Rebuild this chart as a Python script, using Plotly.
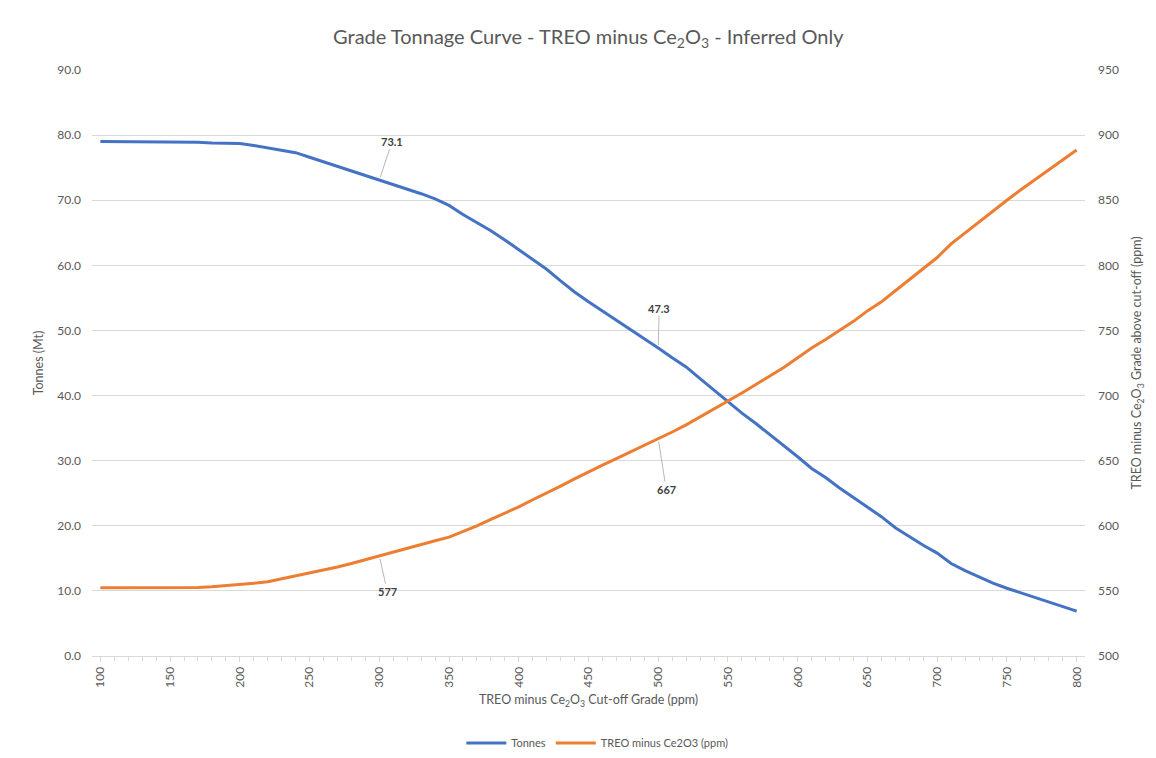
import plotly.graph_objects as go

cutoff = list(range(100, 801, 10))

tonnes = [79.0, 79.0, 79.0, 79.0, 79.0, 79.0, 79.0, 78.9, 78.8, 78.8,
          78.7, 78.4, 78.0, 77.7, 77.3, 76.6, 75.9, 75.3, 74.6, 73.9,
          73.1, 72.4, 71.7, 71.0, 70.2, 69.2, 67.8, 66.6, 65.3, 63.9,
          62.4, 61.0, 59.4, 57.6, 55.9, 54.4, 53.0, 51.6, 50.2, 48.8,
          47.3, 45.8, 44.4, 42.6, 40.8, 39.0, 37.3, 35.7, 34.0, 32.4,
          30.6, 28.8, 27.4, 25.8, 24.3, 22.8, 21.4, 19.7, 18.3, 17.0,
          15.8, 14.2, 13.1, 12.1, 11.2, 10.4, 9.7, 9.0, 8.3, 7.6, 6.9]

grade = [552.5, 552.5, 552.5, 552.5, 552.5, 552.5, 552.5, 552.6, 553.2, 554.0,
         554.8, 555.8, 557.0, 559.2, 561.3, 563.5, 566.0, 568.3, 571.0, 574.0,
         577.0, 580.0, 583.0, 585.8, 588.5, 591.3, 595.5, 600.0, 605.0, 609.8,
         614.5, 620.0, 625.0, 630.5, 636.0, 641.5, 646.5, 651.5, 656.5, 661.8,
         667.0, 672.0, 677.5, 683.5, 689.5, 695.5, 702.0, 708.5, 715.0, 721.5,
         729.0, 736.5, 743.0, 750.0, 757.0, 765.0, 772.0, 780.5, 789.0, 797.5,
         806.0, 816.5, 825.0, 833.5, 842.0, 850.0, 858.0, 865.5, 873.5, 881.0, 888.5]

x_ticks = list(range(100, 801, 50))
left_ticks = [0, 10, 20, 30, 40, 50, 60, 70, 80, 90]
right_ticks = [500, 550, 600, 650, 700, 750, 800, 850, 900, 950]

# labelled points (cut-off values)
tonne_labels = [300, 500]
grade_labels = [300, 500]

FONT = "Lato"
GRAY = "#595959"
BLUE = "#4472C4"
ORANGE = "#ED7D31"

fig = go.Figure()
fig.add_trace(go.Scatter(x=cutoff, y=tonnes, mode="lines", name="Tonnes",
                         line=dict(color=BLUE, width=3), yaxis="y"))
fig.add_trace(go.Scatter(x=cutoff, y=grade, mode="lines", name="TREO minus Ce2O3 (ppm)",
                         line=dict(color=ORANGE, width=3), yaxis="y2"))

annotations = []
offsets_t = {300: (13, -39), 500: (1, -40)}
offsets_g = {300: (8, 36), 500: (8, 51)}
for c in tonne_labels:
    v = tonnes[cutoff.index(c)]
    ax, ay = offsets_t[c]
    annotations.append(dict(x=c, y=v, xref="x", yref="y", text=f"<b>{v:.1f}</b>",
                            showarrow=True, arrowhead=0, arrowwidth=0.8, arrowcolor="#A6A6A6",
                            ax=ax, ay=ay, standoff=3,
                            font=dict(family=FONT, size=11, color="#404040")))
for c in grade_labels:
    v = grade[cutoff.index(c)]
    ax, ay = offsets_g[c]
    annotations.append(dict(x=c, y=v, xref="x", yref="y2", text=f"<b>{v:.0f}</b>",
                            showarrow=True, arrowhead=0, arrowwidth=0.8, arrowcolor="#A6A6A6",
                            ax=ax, ay=ay, standoff=3,
                            font=dict(family=FONT, size=11, color="#404040")))

fig.update_layout(
    width=1156, height=758,
    paper_bgcolor="white", plot_bgcolor="white",
    margin=dict(l=92, r=71, t=70, b=102),
    font=dict(family=FONT, color=GRAY, size=12),
    title=dict(text="Grade Tonnage Curve - TREO minus Ce<sub>2</sub>O<sub>3</sub> - Inferred Only",
               x=0.5089, xanchor="center", y=0.951, yanchor="middle",
               font=dict(family=FONT, size=20, color=GRAY)),
    xaxis=dict(range=[94, 806], tickvals=x_ticks, ticktext=[str(v) for v in x_ticks],
               tickangle=-90, showgrid=False, zeroline=False, automargin=False,
               showline=True, linecolor="#D9D9D9", linewidth=1,
               ticks="outside", ticklen=5, tickcolor="#D9D9D9",
               minor=dict(dtick=10, tick0=100, ticks="outside", ticklen=4, tickcolor="#D9D9D9"),
               tickfont=dict(family=FONT, size=12, color=GRAY),
               title=dict(text="TREO minus Ce<sub>2</sub>O<sub>3</sub> Cut-off Grade (ppm)",
                          font=dict(family=FONT, size=12.5, color=GRAY), standoff=8)),
    yaxis=dict(range=[0, 90], tickvals=left_ticks, ticktext=[f"{v:.1f}" for v in left_ticks],
               showgrid=True, gridcolor="#D9D9D9", gridwidth=1, zeroline=False,
               showline=False, ticks="", ticklabelstandoff=10, automargin=False,
               tickfont=dict(family=FONT, size=12, color=GRAY),
               title=dict(text="Tonnes (Mt)", font=dict(family=FONT, size=12.5, color=GRAY), standoff=10)),
    yaxis2=dict(range=[500, 950], tickvals=right_ticks, ticktext=[str(v) for v in right_ticks],
                overlaying="y", side="right", showgrid=False, zeroline=False,
                showline=False, ticks="", ticklabelstandoff=12, automargin=False,
                tickfont=dict(family=FONT, size=12, color=GRAY),
                title=dict(text="TREO minus Ce<sub>2</sub>O<sub>3</sub> Grade above cut-off (ppm)",
                           font=dict(family=FONT, size=12.5, color=GRAY), standoff=14)),
    legend=dict(orientation="h", x=0.5089, xanchor="center",
                yref="container", y=0.0198, yanchor="middle",
                font=dict(family=FONT, size=11, color=GRAY), itemwidth=40,
                bgcolor="rgba(0,0,0,0)"),
    annotations=annotations,
    showlegend=True,
)

fig.write_html("out.html", config={"displayModeBar": False},
               post_script="document.body.style.margin='0';")
